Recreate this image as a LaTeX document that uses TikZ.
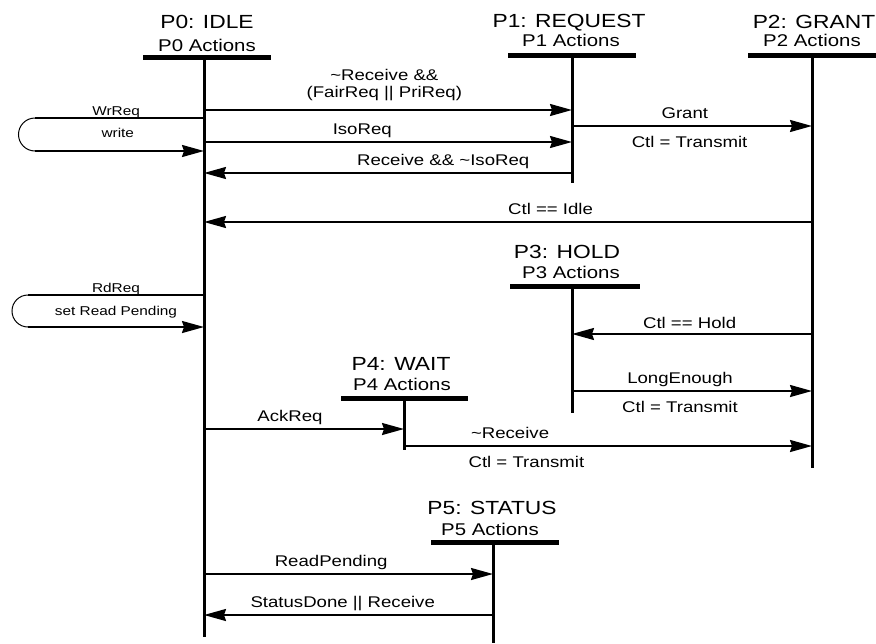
\documentclass[tikz,border=0pt]{standalone}
\usepackage{fontspec}
\setmainfont[FakeStretch=1.2]{Liberation Sans}
\usetikzlibrary{arrows.meta,positioning}

\tikzset{
  lifeline/.style={line width=3pt},
  statebar/.style={line width=5pt},
  msg/.style={line width=2pt,-{Stealth[length=22pt,width=12pt,inset=2pt]}},
  loopend/.style={line width=1pt},
  statetitle/.style={anchor=base,inner sep=0pt,font=\fontsize{19}{21}\selectfont},
  stateacts/.style={anchor=base,inner sep=0pt,font=\fontsize{17}{19}\selectfont},
  lbl/.style={inner sep=0pt,font=\fontsize{15.5}{17}\selectfont},
  abv/.style={lbl,anchor=base,yshift=8pt},
  blw/.style={lbl,anchor=base,yshift=-21pt},
  looplbl/.style={anchor=base,inner sep=0pt,font=\fontsize{12.8}{14}\selectfont},
}

\begin{document}
\begin{tikzpicture}[x=1pt,y=-1pt]
  \useasboundingbox (0,0) rectangle (876,643);

  % states
  \coordinate (p0) at (204,57);
  \node[statetitle] (t0) at (207,28) {P0: IDLE};
  \node[stateacts] (a0) at (207,51) {P0 Actions};
  \draw[statebar] (143,57) -- (271,57);
  \draw[lifeline] (p0) -- (204,637);

  \coordinate (p1) at (572,55);
  \node[statetitle] (t1) at (569,27) {P1: REQUEST};
  \node[stateacts] (a1) at (571,46) {P1 Actions};
  \draw[statebar] (508,55) -- (636,55);
  \draw[lifeline] (p1) -- (572,183);

  \coordinate (p2) at (812,55);
  \node[statetitle] (t2) at (814,28) {P2: GRANT};
  \node[stateacts] (a2) at (812,46) {P2 Actions};
  \draw[statebar] (748,55) -- (876,55);
  \draw[lifeline] (p2) -- (812,468);

  \coordinate (p3) at (572,286);
  \node[statetitle] (t3) at (567,258) {P3: HOLD};
  \node[stateacts] (a3) at (571,278) {P3 Actions};
  \draw[statebar] (510,286) -- (640,286);
  \draw[lifeline] (p3) -- (572,413);

  \coordinate (p4) at (404,398);
  \node[statetitle] (t4) at (401,370) {P4: WAIT};
  \node[stateacts] (a4) at (402,390) {P4 Actions};
  \draw[statebar] (341,398) -- (468,398);
  \draw[lifeline] (p4) -- (404,450);

  \coordinate (p5) at (493,542);
  \node[statetitle] (t5) at (492,514) {P5: STATUS};
  \node[stateacts] (a5) at (490,535) {P5 Actions};
  \draw[statebar] (431,542) -- (559,542);
  \draw[lifeline] (p5) -- (493,643);

  % self loops on P0
  \coordinate (wrtop) at (35,118);
  \coordinate (wrbot) at (35,151);
  \draw[line width=2pt] (p0 |- wrtop) -- node[looplbl,pos=0.52,yshift=3pt] (wrreq) {WrReq} (wrtop);
  \draw[loopend] (wrtop) arc[start angle=270,end angle=90,radius=16.5];
  \draw[msg] (wrbot) -- node[looplbl,pos=0.49,yshift=14pt] (write) {write} (p0 |- wrbot);

  \coordinate (rdtop) at (28,295);
  \coordinate (rdbot) at (28,327);
  \draw[line width=2pt] (p0 |- rdtop) -- node[looplbl,pos=0.50,yshift=3pt] (rdreq) {RdReq} (rdtop);
  \draw[loopend] (rdtop) arc[start angle=270,end angle=90,radius=16];
  \draw[msg] (rdbot) -- node[looplbl,pos=0.50,yshift=12pt] (setrd) {set Read Pending} (p0 |- rdbot);

  % transitions
  \draw[msg] (p0 |- 0,110) -- node[lbl,pos=0.49,anchor=south,align=center,yshift=8.7pt] (m1) {\textasciitilde Receive \&\&\\(FairReq \textbar\textbar\ PriReq)} (p1 |- 0,110);
  \draw[msg] (p0 |- 0,142) -- node[abv,pos=0.43] (m2) {IsoReq} (p1 |- 0,142);
  \draw[msg] (p1 |- 0,173) -- node[abv,pos=0.35] (m3) {Receive \&\& \textasciitilde IsoReq} (p0 |- 0,173);
  \draw[msg] (p1 |- 0,126) -- node[abv,pos=0.47] (m4) {Grant} node[blw,pos=0.49] (m4b) {Ctl = Transmit} (p2 |- 0,126);
  \draw[msg] (p2 |- 0,222) -- node[abv,pos=0.43] (m5) {Ctl == Idle} (p0 |- 0,222);
  \draw[msg] (p2 |- 0,334) -- node[abv,pos=0.51,yshift=-2pt] (m6) {Ctl == Hold} (p3 |- 0,334);
  \draw[msg] (p3 |- 0,391) -- node[abv,pos=0.45] (m7) {LongEnough} node[blw,pos=0.45] (m7b) {Ctl = Transmit} (p2 |- 0,391);
  \draw[msg] (p0 |- 0,429) -- node[abv,pos=0.43] (m8) {AckReq} (p4 |- 0,429);
  \draw[msg] (p4 |- 0,446) -- node[abv,pos=0.26] (m9) {\textasciitilde Receive} node[blw,pos=0.30] (m9b) {Ctl = Transmit} (p2 |- 0,446);
  \draw[msg] (p0 |- 0,574) -- node[abv,pos=0.44] (m10) {ReadPending} (p5 |- 0,574);
  \draw[msg] (p5 |- 0,615) -- node[abv,pos=0.52] (m11) {StatusDone \textbar\textbar\ Receive} (p0 |- 0,615);
\end{tikzpicture}
\end{document}
